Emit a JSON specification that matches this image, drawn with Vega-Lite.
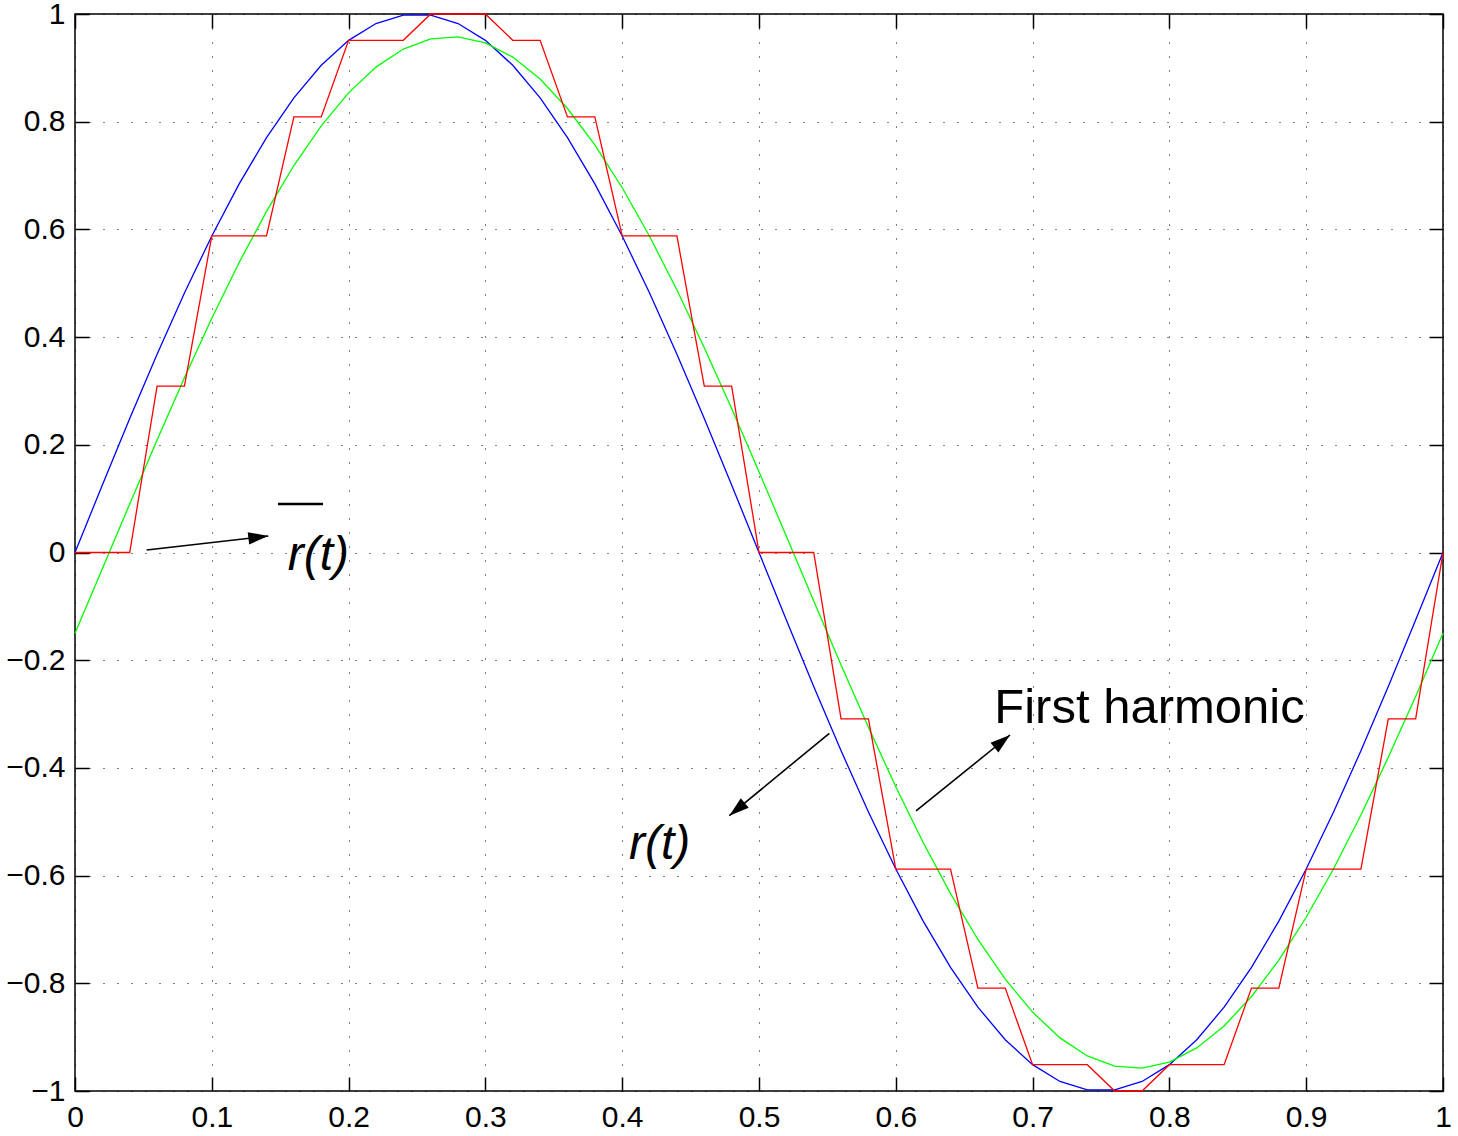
{
  "$schema": "https://vega.github.io/schema/vega-lite/v6.json",
  "width": 1368,
  "height": 1077,
  "autosize": {"type": "none"},
  "padding": {"left": 75, "top": 14, "right": 15, "bottom": 45},
  "background": "white",
  "config": {
    "view": {"stroke": "black", "strokeWidth": 1.5},
    "font": "Liberation Sans"
  },
  "datasets": {
    "sine": [
      {"t": 0, "v": 0}, {"t": 0.02, "v": 0.1253}, {"t": 0.04, "v": 0.2487}, {"t": 0.06, "v": 0.3681}, {"t": 0.08, "v": 0.4818},
      {"t": 0.1, "v": 0.5878}, {"t": 0.12, "v": 0.6845}, {"t": 0.14, "v": 0.7705}, {"t": 0.16, "v": 0.8443}, {"t": 0.18, "v": 0.9048},
      {"t": 0.2, "v": 0.9511}, {"t": 0.22, "v": 0.9823}, {"t": 0.24, "v": 0.998}, {"t": 0.26, "v": 0.998}, {"t": 0.28, "v": 0.9823},
      {"t": 0.3, "v": 0.9511}, {"t": 0.32, "v": 0.9048}, {"t": 0.34, "v": 0.8443}, {"t": 0.36, "v": 0.7705}, {"t": 0.38, "v": 0.6845},
      {"t": 0.4, "v": 0.5878}, {"t": 0.42, "v": 0.4818}, {"t": 0.44, "v": 0.3681}, {"t": 0.46, "v": 0.2487}, {"t": 0.48, "v": 0.1253},
      {"t": 0.5, "v": 0}, {"t": 0.52, "v": -0.1253}, {"t": 0.54, "v": -0.2487}, {"t": 0.56, "v": -0.3681}, {"t": 0.58, "v": -0.4818},
      {"t": 0.6, "v": -0.5878}, {"t": 0.62, "v": -0.6845}, {"t": 0.64, "v": -0.7705}, {"t": 0.66, "v": -0.8443}, {"t": 0.68, "v": -0.9048},
      {"t": 0.7, "v": -0.9511}, {"t": 0.72, "v": -0.9823}, {"t": 0.74, "v": -0.998}, {"t": 0.76, "v": -0.998}, {"t": 0.78, "v": -0.9823},
      {"t": 0.8, "v": -0.9511}, {"t": 0.82, "v": -0.9048}, {"t": 0.84, "v": -0.8443}, {"t": 0.86, "v": -0.7705}, {"t": 0.88, "v": -0.6845},
      {"t": 0.9, "v": -0.5878}, {"t": 0.92, "v": -0.4818}, {"t": 0.94, "v": -0.3681}, {"t": 0.96, "v": -0.2487}, {"t": 0.98, "v": -0.1253},
      {"t": 1, "v": 0}
    ],
    "harmonic": [
      {"t": 0, "v": -0.1499}, {"t": 0.02, "v": -0.0301}, {"t": 0.04, "v": 0.0902}, {"t": 0.06, "v": 0.209}, {"t": 0.08, "v": 0.3245},
      {"t": 0.1, "v": 0.4349}, {"t": 0.12, "v": 0.5385}, {"t": 0.14, "v": 0.6335}, {"t": 0.16, "v": 0.7186}, {"t": 0.18, "v": 0.7924},
      {"t": 0.2, "v": 0.8536}, {"t": 0.22, "v": 0.9014}, {"t": 0.24, "v": 0.9349}, {"t": 0.26, "v": 0.9538}, {"t": 0.28, "v": 0.9575},
      {"t": 0.3, "v": 0.9462}, {"t": 0.32, "v": 0.92}, {"t": 0.34, "v": 0.8793}, {"t": 0.36, "v": 0.8245}, {"t": 0.38, "v": 0.757},
      {"t": 0.4, "v": 0.6774}, {"t": 0.42, "v": 0.5872}, {"t": 0.44, "v": 0.4876}, {"t": 0.46, "v": 0.3804}, {"t": 0.48, "v": 0.2673},
      {"t": 0.5, "v": 0.1499}, {"t": 0.52, "v": 0.0301}, {"t": 0.54, "v": -0.0902}, {"t": 0.56, "v": -0.209}, {"t": 0.58, "v": -0.3245},
      {"t": 0.6, "v": -0.4349}, {"t": 0.62, "v": -0.5385}, {"t": 0.64, "v": -0.6335}, {"t": 0.66, "v": -0.7186}, {"t": 0.68, "v": -0.7924},
      {"t": 0.7, "v": -0.8536}, {"t": 0.72, "v": -0.9014}, {"t": 0.74, "v": -0.9349}, {"t": 0.76, "v": -0.9538}, {"t": 0.78, "v": -0.9575},
      {"t": 0.8, "v": -0.9462}, {"t": 0.82, "v": -0.92}, {"t": 0.84, "v": -0.8793}, {"t": 0.86, "v": -0.8245}, {"t": 0.88, "v": -0.757},
      {"t": 0.9, "v": -0.6774}, {"t": 0.92, "v": -0.5872}, {"t": 0.94, "v": -0.4876}, {"t": 0.96, "v": -0.3804}, {"t": 0.98, "v": -0.2673},
      {"t": 1, "v": -0.1499}
    ],
    "sampled": [
      {"t": 0, "v": 0}, {"t": 0.04, "v": 0}, {"t": 0.06, "v": 0.309}, {"t": 0.08, "v": 0.309}, {"t": 0.1, "v": 0.5878},
      {"t": 0.14, "v": 0.5878}, {"t": 0.16, "v": 0.809}, {"t": 0.18, "v": 0.809}, {"t": 0.2, "v": 0.9511}, {"t": 0.24, "v": 0.9511},
      {"t": 0.26, "v": 1}, {"t": 0.3, "v": 1}, {"t": 0.32, "v": 0.9511}, {"t": 0.34, "v": 0.9511}, {"t": 0.36, "v": 0.809},
      {"t": 0.38, "v": 0.809}, {"t": 0.4, "v": 0.5878}, {"t": 0.44, "v": 0.5878}, {"t": 0.46, "v": 0.309}, {"t": 0.48, "v": 0.309},
      {"t": 0.5, "v": 0}, {"t": 0.54, "v": 0}, {"t": 0.56, "v": -0.309}, {"t": 0.58, "v": -0.309}, {"t": 0.6, "v": -0.5878},
      {"t": 0.64, "v": -0.5878}, {"t": 0.66, "v": -0.809}, {"t": 0.68, "v": -0.809}, {"t": 0.7, "v": -0.9511}, {"t": 0.74, "v": -0.9511},
      {"t": 0.76, "v": -1}, {"t": 0.78, "v": -1}, {"t": 0.8, "v": -0.9511}, {"t": 0.84, "v": -0.9511}, {"t": 0.86, "v": -0.809},
      {"t": 0.88, "v": -0.809}, {"t": 0.9, "v": -0.5878}, {"t": 0.94, "v": -0.5878}, {"t": 0.96, "v": -0.309}, {"t": 0.98, "v": -0.309},
      {"t": 1, "v": 0}
    ],
    "arrows": [
      {"name": "a1", "x0": 0.0524, "y0": 0.0046, "x1": 0.1413, "y1": 0.0306},
      {"name": "a2", "x0": 0.5514, "y0": -0.3357, "x1": 0.4783, "y1": -0.4888},
      {"name": "a3", "x0": 0.6148, "y0": -0.48, "x1": 0.6835, "y1": -0.3389}
    ],
    "notes": [
      {"label": "r(t)", "style": "italic", "t": 0.1555, "v": -0.0325},
      {"label": "r(t)", "style": "italic", "t": 0.405, "v": -0.569},
      {"label": "First harmonic", "style": "normal", "t": 0.672, "v": -0.3172}
    ],
    "overline": [
      {"t0": 0.1484, "t1": 0.1813, "v": 0.0901}
    ]
  },
  "layer": [
    {
      "data": {"name": "sine"},
      "mark": {"type": "line", "color": "#0000ff", "strokeWidth": 1.3},
      "encoding": {
        "x": {
          "field": "t", "type": "quantitative",
          "scale": {"domain": [0, 1], "nice": false, "zero": false},
          "axis": {
            "orient": "bottom", "title": null,
            "values": [0, 0.1, 0.2, 0.3, 0.4, 0.5, 0.6, 0.7, 0.8, 0.9, 1],
            "format": "~g", "labelFontSize": 30, "labelFont": "Liberation Sans", "labelColor": "black",
            "labelFlush": false, "labelOverlap": false, "labelPadding": 25,
            "tickSize": -14, "tickColor": "black", "tickWidth": 1.5,
            "domain": false,
            "grid": true, "gridColor": "black", "gridOpacity": 1, "gridWidth": 1, "gridDash": [1, 13]
          }
        },
        "y": {
          "field": "v", "type": "quantitative",
          "scale": {"domain": [-1, 1], "nice": false, "zero": false},
          "axis": {
            "orient": "left", "title": null,
            "values": [-1, -0.8, -0.6, -0.4, -0.2, 0, 0.2, 0.4, 0.6, 0.8, 1],
            "format": "~g", "labelFontSize": 30, "labelFont": "Liberation Sans", "labelColor": "black",
            "labelFlush": false, "labelOverlap": false, "labelPadding": 24,
            "tickSize": -14, "tickColor": "black", "tickWidth": 1.5,
            "domain": false,
            "grid": true, "gridColor": "black", "gridOpacity": 1, "gridWidth": 1, "gridDash": [1, 13]
          }
        }
      }
    },
    {
      "data": {"name": "harmonic"},
      "mark": {"type": "line", "color": "#00ff00", "strokeWidth": 1.3},
      "encoding": {
        "x": {"field": "t", "type": "quantitative", "axis": null},
        "y": {"field": "v", "type": "quantitative", "axis": null}
      }
    },
    {
      "data": {"name": "sampled"},
      "mark": {"type": "line", "color": "#ff0000", "strokeWidth": 1.3},
      "encoding": {
        "x": {"field": "t", "type": "quantitative", "axis": null},
        "y": {"field": "v", "type": "quantitative", "axis": null}
      }
    },
    {
      "data": {"name": "arrows"},
      "mark": {"type": "rule", "color": "black", "strokeWidth": 1.6},
      "encoding": {
        "x": {
          "field": "x0", "type": "quantitative",
          "axis": {
            "orient": "top", "title": null, "labels": false, "grid": false, "domain": false,
            "values": [0, 0.1, 0.2, 0.3, 0.4, 0.5, 0.6, 0.7, 0.8, 0.9, 1],
            "tickSize": -14, "tickColor": "black", "tickWidth": 1.5
          }
        },
        "x2": {"field": "x1"},
        "y": {
          "field": "y0", "type": "quantitative",
          "axis": {
            "orient": "right", "title": null, "labels": false, "grid": false, "domain": false,
            "values": [-1, -0.8, -0.6, -0.4, -0.2, 0, 0.2, 0.4, 0.6, 0.8, 1],
            "tickSize": -14, "tickColor": "black", "tickWidth": 1.5
          }
        },
        "y2": {"field": "y1"}
      }
    },
    {
      "data": {"name": "arrows"},
      "transform": [{"filter": "datum.name === 'a1'"}],
      "mark": {"type": "point", "shape": "M0,0L-2,-0.62L-2,0.62Z", "filled": true, "color": "black", "opacity": 1, "size": 400, "angle": 353.4, "strokeWidth": 0},
      "encoding": {
        "x": {"field": "x1", "type": "quantitative", "axis": null},
        "y": {"field": "y1", "type": "quantitative", "axis": null}
      }
    },
    {
      "data": {"name": "arrows"},
      "transform": [{"filter": "datum.name === 'a2'"}],
      "mark": {"type": "point", "shape": "M0,0L-2,-0.62L-2,0.62Z", "filled": true, "color": "black", "opacity": 1, "size": 400, "angle": 140.5, "strokeWidth": 0},
      "encoding": {
        "x": {"field": "x1", "type": "quantitative", "axis": null},
        "y": {"field": "y1", "type": "quantitative", "axis": null}
      }
    },
    {
      "data": {"name": "arrows"},
      "transform": [{"filter": "datum.name === 'a3'"}],
      "mark": {"type": "point", "shape": "M0,0L-2,-0.62L-2,0.62Z", "filled": true, "color": "black", "opacity": 1, "size": 400, "angle": 321, "strokeWidth": 0},
      "encoding": {
        "x": {"field": "x1", "type": "quantitative", "axis": null},
        "y": {"field": "y1", "type": "quantitative", "axis": null}
      }
    },
    {
      "data": {"name": "overline"},
      "mark": {"type": "rule", "color": "black", "strokeWidth": 2.7},
      "encoding": {
        "x": {"field": "t0", "type": "quantitative", "axis": null},
        "x2": {"field": "t1"},
        "y": {"field": "v", "type": "quantitative", "axis": null}
      }
    },
    {
      "data": {"name": "notes"},
      "transform": [{"filter": "datum.style === 'italic'"}],
      "mark": {"type": "text", "font": "Liberation Sans", "fontSize": 48, "fontStyle": "italic", "align": "left", "baseline": "alphabetic", "color": "black"},
      "encoding": {
        "x": {"field": "t", "type": "quantitative", "axis": null},
        "y": {"field": "v", "type": "quantitative", "axis": null},
        "text": {"field": "label"}
      }
    },
    {
      "data": {"name": "notes"},
      "transform": [{"filter": "datum.style === 'normal'"}],
      "mark": {"type": "text", "font": "Liberation Sans", "fontSize": 49, "align": "left", "baseline": "alphabetic", "color": "black"},
      "encoding": {
        "x": {"field": "t", "type": "quantitative", "axis": null},
        "y": {"field": "v", "type": "quantitative", "axis": null},
        "text": {"field": "label"}
      }
    }
  ],
  "resolve": {"axis": {"x": "independent", "y": "independent"}}
}
